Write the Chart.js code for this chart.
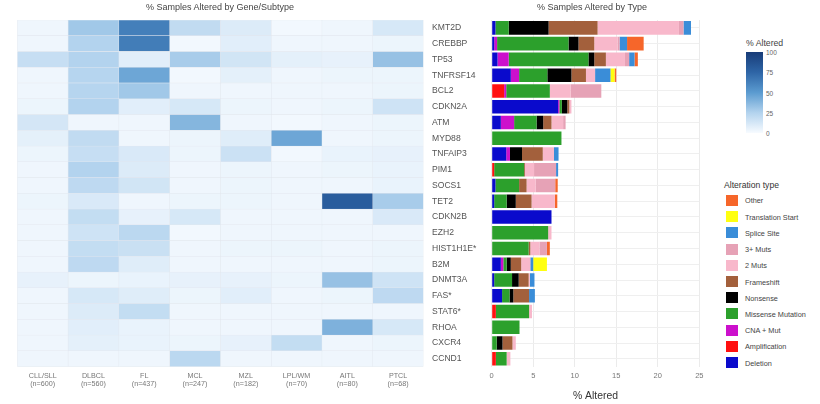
<!DOCTYPE html>
<html>
<head>
<meta charset="utf-8">
<script src="https://cdn.jsdelivr.net/npm/chart.js@4.4.1/dist/chart.umd.min.js"></script>
<style>
  body { margin: 0; width: 820px; height: 404px; background: #fff; position: relative; overflow: hidden;
         font-family: "Liberation Sans", Arial, sans-serif; }
  canvas { position: absolute; top: 0; }
  #heat { left: 0; }
  #bars { left: 425px; }
  .ttl { position: absolute; top: 2px; font-size: 9px; color: #444; white-space: nowrap; transform: translateX(-50%); }
  .cbar-title { position: absolute; left: 746px; top: 38px; font-size: 8.7px; color: #444; }
  #cbar { position: absolute; left: 746px; top: 52px; width: 17px; height: 81px; }
  .cbar-lab { position: absolute; left: 766px; font-size: 6.5px; color: #666; transform: translateY(-50%); }
  .leg-title { position: absolute; left: 724px; top: 180px; font-size: 8.6px; color: #333; }
  .leg-box { position: absolute; left: 726px; width: 12px; height: 11px; }
  .leg-lab { position: absolute; left: 745px; font-size: 7.3px; color: #444; transform: translateY(-50%); white-space: nowrap; }
</style>
</head>
<body>
<canvas id="heat" width="425" height="404"></canvas>
<canvas id="bars" width="290" height="404"></canvas>
<div class="ttl" style="left:220px">% Samples Altered by Gene/Subtype</div>
<div class="ttl" style="left:592px">% Samples Altered by Type</div>
<div class="cbar-title">% Altered</div>
<div id="cbar"></div>
<div id="legend"></div>
<script>
// genes (rows, top to bottom)
const genes = ['KMT2D', 'CREBBP', 'TP53', 'TNFRSF14', 'BCL2', 'CDKN2A', 'ATM', 'MYD88', 'TNFAIP3', 'PIM1', 'SOCS1',
  'TET2', 'CDKN2B', 'EZH2', 'HIST1H1E*', 'B2M', 'DNMT3A', 'FAS*', 'STAT6*', 'RHOA', 'CXCR4', 'CCND1'];

// heatmap: % altered per subtype
const subtypes = ['CLL/SLL', 'DLBCL', 'FL', 'MCL', 'MZL', 'LPL/WM', 'AITL', 'PTCL'];
const subtypeN = ['(n=600)', '(n=560)', '(n=437)', '(n=247)', '(n=182)', '(n=70)', '(n=80)', '(n=68)'];
const cllSll = [3, 3, 18, 3, 3, 4, 13, 7, 4, 3, 3, 4, 3, 3, 3, 3, 6, 3, 3, 3, 3, 3];
const dlbcl  = [30, 25, 25, 24, 24, 25, 3, 20, 18, 25, 21, 11, 19, 15, 19, 21, 4, 12, 10, 8, 7, 3];
const fl     = [63, 64, 8, 45, 30, 8, 3, 3, 11, 10, 14, 3, 6, 22, 17, 9, 5, 9, 19, 5, 5, 3];
const mcl    = [20, 2, 28, 2, 3, 12, 38, 4, 4, 3, 3, 4, 12, 2, 3, 3, 6, 4, 3, 3, 4, 22];
const mzl    = [10, 8, 14, 7, 3, 4, 3, 9, 16, 4, 4, 4, 3, 3, 4, 3, 6, 8, 3, 3, 6, 3];
const lplWm  = [2, 3, 7, 3, 3, 3, 2, 45, 2, 3, 3, 3, 3, 3, 4, 3, 4, 3, 3, 3, 19, 3];
const aitl   = [3, 3, 6, 4, 3, 4, 3, 3, 5, 4, 3, 80, 3, 3, 3, 3, 33, 4, 3, 40, 3, 3];
const ptcl   = [12, 4, 33, 4, 4, 15, 4, 4, 6, 5, 5, 28, 11, 3, 4, 4, 15, 21, 3, 12, 4, 3];
const heatRows = [cllSll, dlbcl, fl, mcl, mzl, lplWm, aitl, ptcl];

// stacked bars: % altered by alteration type
const deletion      = [0.45, 0.3, 0.7, 2.3, 0, 8.0, 1.1, 0, 1.75, 0, 0.45, 0.3, 7.2, 0, 0, 1.1, 0.3, 1.25, 0, 0, 0, 0];
const amplification = [0, 0, 0, 0, 1.5, 0, 0, 0, 0, 0.3, 0, 0, 0, 0, 0, 0, 0, 0, 0.5, 0, 0, 0.5];
const cnaMut        = [0, 0.35, 1.35, 1.0, 0.25, 0.15, 1.6, 0, 0.45, 0, 0, 0, 0, 0, 0, 0.3, 0, 0, 0, 0, 0, 0];
const missense      = [1.6, 8.6, 9.6, 3.4, 5.25, 0.3, 2.7, 8.4, 0, 3.6, 2.85, 1.5, 0, 6.8, 4.45, 0.4, 2.15, 0.9, 4.0, 3.35, 0.6, 1.3];
const nonsense      = [4.8, 1.2, 0.7, 2.9, 0, 0.65, 0.8, 0, 1.45, 0, 0, 1.1, 0, 0, 0, 0.5, 0.8, 0.45, 0, 0, 0.7, 0];
const frameshift    = [5.9, 1.9, 1.4, 1.75, 0, 0.25, 1.0, 0, 2.5, 0.1, 0.9, 1.9, 0, 0, 0.2, 1.25, 1.2, 1.9, 0, 0, 1.2, 0];
const twoMuts       = [9.8, 2.8, 2.3, 1.1, 2.5, 0.25, 1.4, 0, 1.35, 1.1, 1.1, 2.8, 0, 0.4, 1.1, 1.1, 0.15, 0, 0.35, 0, 0.4, 0.45];
const threeMuts     = [0.55, 0.25, 0.5, 0, 3.7, 0, 0.3, 0, 0, 2.65, 2.35, 0, 0, 0, 0.9, 0, 0, 0, 0, 0, 0, 0];
const spliceSite    = [0.9, 0.9, 0.65, 1.85, 0, 0, 0, 0, 0.55, 0.25, 0, 0, 0, 0, 0, 0.35, 0.55, 0.7, 0, 0, 0, 0];
const transStart    = [0, 0, 0, 0.5, 0, 0, 0, 0, 0, 0, 0, 0, 0, 0, 0, 1.65, 0, 0, 0, 0, 0, 0];
const other         = [0, 2.0, 0.4, 0.2, 0, 0, 0, 0, 0, 0, 0.3, 0.3, 0, 0, 0.35, 0, 0, 0, 0, 0, 0, 0];

const typeNames = ['Deletion', 'Amplification', 'CNA + Mut', 'Missense Mutation', 'Nonsense', 'Frameshift',
  '2 Muts', '3+ Muts', 'Splice Site', 'Translation Start', 'Other'];
const typeSeries = [deletion, amplification, cnaMut, missense, nonsense, frameshift, twoMuts, threeMuts, spliceSite, transStart, other];
const typeColors = ['#0a0acc', '#ff1010', '#cc10cc', '#2ca02c', '#000000', '#a3603c',
  '#f8b8cb', '#e6a2b6', '#3a8dd8', '#ffff10', '#f6662a'];

// blues colour ramp for the heatmap / colourbar
const rampStops = [[0, [247, 251, 255]], [25, [179, 211, 238]], [50, [91, 155, 208]], [75, [46, 101, 166]], [100, [24, 60, 120]]];
function heatColor(v) {
  for (let i = 1; i < rampStops.length; i++) {
    const [v0, c0] = rampStops[i - 1], [v1, c1] = rampStops[i];
    if (v <= v1) {
      const t = (v - v0) / (v1 - v0);
      return 'rgb(' + c0.map((c, k) => Math.round(c + (c1[k] - c) * t)).join(',') + ')';
    }
  }
  return 'rgb(24,60,120)';
}

const font = '"Liberation Sans", Arial, sans-serif';
Chart.defaults.font.family = font;

new Chart(document.getElementById('heat'), {
  type: 'bar',
  data: {
    labels: genes,
    datasets: heatRows.map((vals, c) => ({
      label: subtypes[c],
      data: genes.map(() => 1),
      backgroundColor: ctx => heatColor(vals[ctx.dataIndex]),
      borderColor: '#e2e7ee',
      borderWidth: 0.5,
      borderSkipped: false,
      barPercentage: 1,
      categoryPercentage: 1
    }))
  },
  options: {
    indexAxis: 'y',
    responsive: false,
    animation: false,
    layout: { padding: { top: 20, left: 17.3, right: 1.5, bottom: 0 } },
    plugins: { legend: { display: false }, tooltip: { enabled: false } },
    scales: {
      y: { display: false, stacked: true },
      x: { display: false, stacked: true, min: 0, max: subtypes.length },
      xc: {
        type: 'category', position: 'bottom', offset: true,
        labels: subtypes.map((s, i) => [s, subtypeN[i]]),
        grid: { display: false, drawTicks: false },
        border: { display: false },
        ticks: { color: '#777', font: { size: 7.2, lineHeight: 1.15 }, padding: 5, maxRotation: 0, autoSkip: false },
        afterFit: s => { s.height = 37.3; }
      }
    }
  }
});

new Chart(document.getElementById('bars'), {
  type: 'bar',
  data: {
    labels: genes,
    datasets: typeSeries.map((vals, i) => ({
      label: typeNames[i],
      data: vals,
      backgroundColor: typeColors[i],
      borderWidth: 0,
      barPercentage: 0.86,
      categoryPercentage: 1
    }))
  },
  options: {
    indexAxis: 'y',
    responsive: false,
    animation: false,
    layout: { padding: { top: 20, left: 7, right: 15.7, bottom: 0 } },
    plugins: { legend: { display: false }, tooltip: { enabled: false } },
    scales: {
      x: {
        stacked: true, min: 0, max: 25,
        ticks: { stepSize: 5, color: '#777', font: { size: 7.5 }, padding: 5, maxRotation: 0 },
        grid: { color: '#ebebeb', drawTicks: false },
        border: { display: false },
        title: { display: true, text: '% Altered', color: '#333', font: { size: 10.4 }, padding: { top: 0, bottom: 2 } },
        afterFit: s => { s.height = 37.3; }
      },
      y: {
        stacked: true,
        grid: { color: '#efefef', offset: false, drawTicks: false },
        border: { display: false },
        ticks: { color: '#555', font: { size: 8.6 }, crossAlign: 'far', padding: 0, autoSkip: false },
        afterFit: s => { s.width = 59.7; }
      }
    }
  }
});

// colour bar (legend for the heatmap)
document.getElementById('cbar').style.background =
  'linear-gradient(to top, ' + rampStops.map(([v]) => heatColor(v) + ' ' + v + '%').join(', ') + ')';
[0, 25, 50, 75, 100].forEach(v => {
  const d = document.createElement('div');
  d.className = 'cbar-lab';
  d.style.top = (133 - v * 0.81) + 'px';
  d.textContent = v;
  document.body.appendChild(d);
});

// alteration type legend, drawn top-down in reverse stacking order
const leg = document.getElementById('legend');
const lt = document.createElement('div');
lt.className = 'leg-title';
lt.textContent = 'Alteration type';
leg.appendChild(lt);
typeNames.slice().reverse().forEach((name, i) => {
  const y = 200.3 + i * 16.24;
  const box = document.createElement('div');
  box.className = 'leg-box';
  box.style.top = (y - 5.5) + 'px';
  box.style.background = typeColors[typeNames.length - 1 - i];
  const lab = document.createElement('div');
  lab.className = 'leg-lab';
  lab.style.top = y + 'px';
  lab.textContent = name;
  leg.appendChild(box);
  leg.appendChild(lab);
});
</script>
</body>
</html>
